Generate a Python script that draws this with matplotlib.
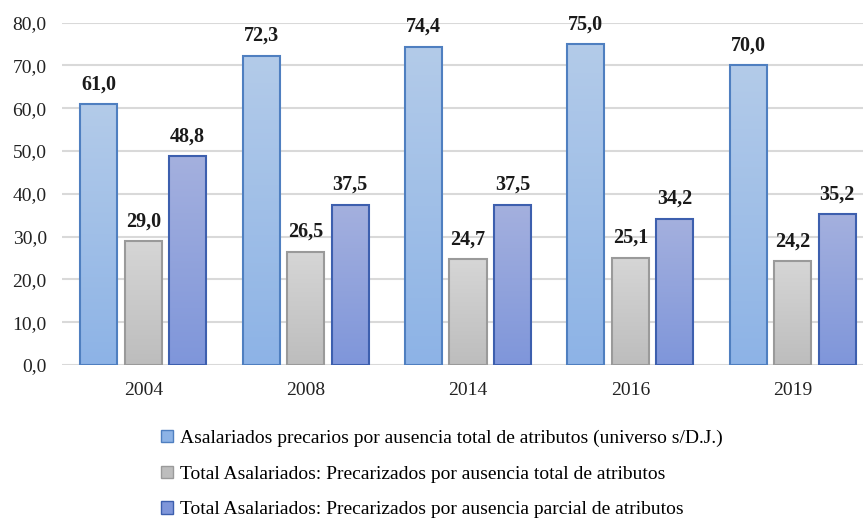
import numpy as np
import matplotlib
matplotlib.use("Agg")
import matplotlib.pyplot as plt
from matplotlib.colors import LinearSegmentedColormap
from matplotlib.patches import Patch

years = ["2004", "2008", "2014", "2016", "2019"]
universo = [61.0, 72.3, 74.4, 75.0, 70.0]
total_aus = [29.0, 26.5, 24.7, 25.1, 24.2]
parcial_aus = [48.8, 37.5, 37.5, 34.2, 35.2]
labels = [
    "Asalariados precarios por ausencia total de atributos (universo s/D.J.)",
    "Total Asalariados: Precarizados por ausencia total de atributos",
    "Total Asalariados: Precarizados por ausencia parcial de atributos",
]

plt.rcParams["font.family"] = ["Liberation Serif", "DejaVu Serif"]

# (top colour, bottom colour, edge)
styles = [
    ("#b3cbe9", "#8db3e6", "#4f7fc0"),
    ("#d6d6d6", "#bdbdbd", "#9a9a9a"),
    ("#a4b0de", "#7f96da", "#3d5fae"),
]

fig = plt.figure(figsize=(8.63, 5.18), dpi=100)
ax = fig.add_axes([62 / 863, 153 / 518, 812 / 863, 342.3 / 518])

x = np.arange(len(years))
w = 0.228
step = 0.274
series = [universo, total_aus, parcial_aus]

for i, (vals, (ctop, cbot, cedge)) in enumerate(zip(series, styles)):
    cmap = LinearSegmentedColormap.from_list("g%d" % i, [cbot, ctop])
    bars = ax.bar(x + (i - 1) * step, vals, width=w, color=cbot,
                  edgecolor=cedge, linewidth=1.5, zorder=3)
    for b, v in zip(bars, vals):
        bx, bw = b.get_x(), b.get_width()
        grad = np.linspace(0, 1, 100).reshape(-1, 1)
        im = ax.imshow(grad, cmap=cmap, origin="lower", aspect="auto",
                       extent=[bx, bx + bw, 0, v], zorder=3.5)
        im.set_clip_path(b)
        b.set_facecolor("none")
        b.set_zorder(4)
        ax.annotate(f"{v:.1f}".replace(".", ","), (bx + bw / 2, v),
                    xytext=(0, 7), textcoords="offset points",
                    ha="center", va="bottom", fontsize=14.5,
                    fontweight="bold", color="#1a1a1a", clip_on=False)

ax.set_xlim(-0.5, 4.5)
ax.set_ylim(0, 80)
ax.set_yticks(np.arange(0, 81, 10))
ax.set_yticklabels([f"{t:.1f}".replace(".", ",") for t in np.arange(0, 81, 10)])
ax.set_xticks(x)
ax.set_xticklabels(years)
ax.tick_params(axis="both", length=0, colors="#222222")
ax.tick_params(axis="y", pad=11, labelsize=14)
ax.tick_params(axis="x", pad=12, labelsize=14)
ax.grid(axis="y", color="#d9d9d9", linewidth=1.5, zorder=0)
ax.set_axisbelow(True)
for s in ax.spines.values():
    s.set_visible(False)

handles = [Patch(facecolor=c[1], edgecolor=c[2], linewidth=1) for c in styles]
fig.legend(handles, labels, loc="upper center", bbox_to_anchor=(442 / 863, 102 / 518),
           frameon=False, ncol=1, fontsize=14, handlelength=0.6, handleheight=0.6,
           handletextpad=0.35, labelspacing=0.96, borderpad=0.2)

fig.savefig("out.png", dpi=100)
